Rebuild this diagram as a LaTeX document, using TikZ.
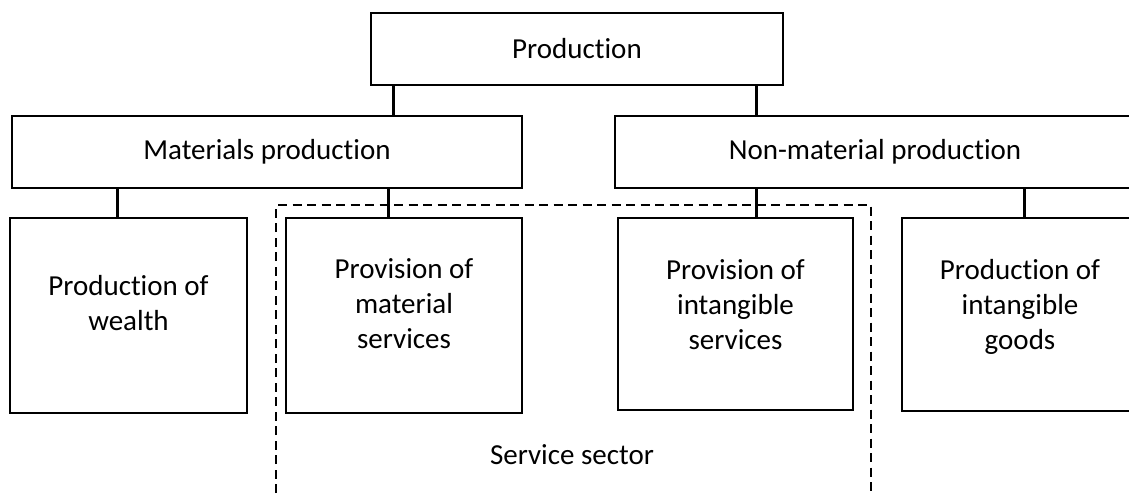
\documentclass[tikz,border=0pt]{standalone}
\usepackage{fontspec}
\setmainfont{Carlito}[Ligatures=NoCommon]

\begin{document}
\begin{tikzpicture}[x=1pt,y=-1pt,
        box/.style={draw,line width=2.8pt,inner sep=0pt},
        txt/.style={align=center,font=\fontsize{29}{35}\selectfont},
        link/.style={line width=2.6pt},
        sector/.style={line width=2.8pt,dash pattern=on 9pt off 5.5pt}]
        \useasboundingbox (0,0) rectangle (1129,493);
        \clip (0,0) rectangle (1129,493);

        % top levels
        \node[box,txt,minimum width=412pt,minimum height=72pt] (prod) at (577,49) {Production};
        \node[box,txt,minimum width=510pt,minimum height=72pt] (mat) at (267,152) {Materials production};
        \node[box,txt,minimum width=520pt,minimum height=72pt] (nonmat) at (875,152) {Non-material production};

        % lower boxes
        \node[box,minimum width=237pt,minimum height=195pt] (wealth) at (128.5,315.5) {};
        \node[box,minimum width=236pt,minimum height=195pt] (matserv) at (404,315.5) {};
        \node[box,minimum width=235pt,minimum height=192pt] (intserv) at (735.5,314) {};
        \node[box,minimum width=236pt,minimum height=193pt] (goods) at (1020,314.5) {};

        \node[txt] (wealthtxt) at ([yshift=12pt]wealth.center) {Production of\\wealth};
        \node[txt] (matservtxt) at ([yshift=12pt]matserv.center) {Provision of\\material\\services};
        \node[txt] (intservtxt) at ([yshift=9pt]intserv.center) {Provision of\\intangible\\services};
        \node[txt] (goodstxt) at ([yshift=8pt]goods.center) {Production of\\intangible\\goods};

        \node[txt] (sectortxt) at (572,455) {Service sector};

        % connectors
        \draw[link] ([xshift=24pt]prod.south west) -- ([xshift=24pt]prod.south west |- mat.north);
        \draw[link] ([xshift=-28pt]prod.south east) -- ([xshift=-28pt]prod.south east |- nonmat.north);

        \draw[link] ([xshift=107pt]mat.south west) -- ([xshift=107pt]mat.south west |- wealth.north);
        \draw[link] ([xshift=-135pt]mat.south east) -- ([xshift=-135pt]mat.south east |- matserv.north);
        \draw[link] ([xshift=143pt]nonmat.south west) -- ([xshift=143pt]nonmat.south west |- intserv.north);
        \draw[link] ([xshift=411pt]nonmat.south west) -- ([xshift=411pt]nonmat.south west |- goods.north);

        % service sector frame
        \draw[sector] (276,493) -- (276,205) -- (871,205) -- (871,493);
    \end{tikzpicture}
\end{document}
